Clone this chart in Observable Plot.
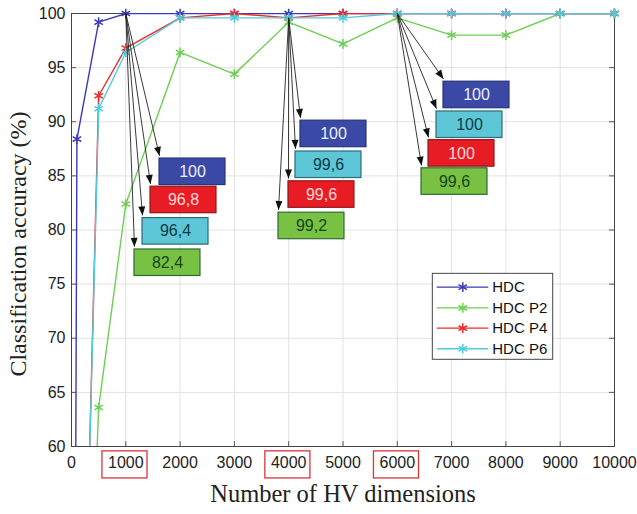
<!DOCTYPE html>
<html>
<head>
<meta charset="utf-8">
<script src="https://cdn.jsdelivr.net/npm/d3@7"></script>
<script src="https://cdn.jsdelivr.net/npm/@observablehq/plot@0.6"></script>
<style>
  body { margin: 0; background: #fff; }
  #chart svg { display: block; }
</style>
</head>
<body>
<div id="chart"></div>
<script>
// ---------- data ----------
const xTicks = [0, 1000, 2000, 3000, 4000, 5000, 6000, 7000, 8000, 9000, 10000];
const yTicks = [60, 65, 70, 75, 80, 85, 90, 95, 100];
const highlightedTicks = [1000, 4000, 6000];

const seriesNames = ["HDC", "HDC P2", "HDC P4", "HDC P6"];
const seriesColors = ["#3a3ab8", "#6ccf52", "#ee2b2b", "#50cbdc"];

const hdcDims = [50, 100, 500, 1000, 2000, 3000, 4000, 5000, 6000, 7000, 8000, 9000, 10000];
const hdcAcc  = [20, 88.4, 99.2, 100, 100, 100, 100, 100, 100, 100, 100, 100, 100];

const pDims  = [100, 500, 1000, 2000, 3000, 4000, 5000, 6000, 7000, 8000, 9000, 10000];
const p2Acc  = [10.6, 63.6, 82.4, 96.4, 94.4, 99.2, 97.2, 99.6, 98, 98, 100, 100];
const p4Acc  = [14, 92.4, 96.8, 99.6, 100, 99.6, 100, 100, 100, 100, 100, 100];
const p6Acc  = [14.6, 91.2, 96.4, 99.6, 99.6, 99.6, 99.6, 100, 100, 100, 100, 100];

// annotation call-outs
const annoLabels = ["100", "96,8", "96,4", "82,4", "100", "99,6", "99,6", "99,2", "100", "100", "100", "99,6"];
const annoSeries = [0, 2, 3, 1, 0, 3, 2, 1, 0, 3, 2, 1];
const annoFromX  = [1000, 1000, 1000, 1000, 4000, 4000, 4000, 4000, 6000, 6000, 6000, 6000];
const annoFromY  = [100, 100, 100, 100, 99.6, 99.6, 99.6, 99.6, 100, 100, 100, 100];
const annoBoxX   = [1621, 1455, 1308, 1160, 4217, 4125, 3996, 3812, 6851, 6722, 6575, 6446];
const annoBoxY   = [86.6, 84.0, 81.1, 78.2, 90.1, 87.25, 84.5, 81.6, 93.7, 90.95, 88.3, 85.7];
const boxFill    = ["#3b49a6", "#79c143", "#e81c24", "#5dc7d7"];
const boxStroke  = ["#27337c", "#2f6a35", "#8c1919", "#2b6c79"];
const boxText    = ["#eef0ff", "#154515", "#ffdada", "#0a3a44"];

// ---------- build tables ----------
const BOX_W = 1215, BOX_H = 2.45;
const lineRows = [];
const addSeries = (name, dims, acc) => dims.forEach((d, i) => lineRows.push({series: name, dim: d, acc: acc[i]}));
addSeries("HDC", hdcDims, hdcAcc);
addSeries("HDC P2", pDims, p2Acc);
addSeries("HDC P4", pDims, p4Acc);
addSeries("HDC P6", pDims, p6Acc);
const pointRows = lineRows.filter(d => d.acc >= 60);

const annos = annoLabels.map((label, i) => ({
  label,
  s: annoSeries[i],
  fx: annoFromX[i], fy: annoFromY[i],
  x1: annoBoxX[i], x2: annoBoxX[i] + BOX_W,
  y1: annoBoxY[i] - BOX_H, y2: annoBoxY[i]
}));

// legend (data coordinates)
const legendRows = seriesNames.map((name, i) => ({
  name, color: seriesColors[i], y: [74.72, 72.8, 70.93, 69.03][i]
}));

const colorScale = {domain: seriesNames, range: seriesColors};

const chart = Plot.plot({
  width: 637,
  height: 514,
  marginLeft: 71,
  marginRight: 23,
  marginTop: 13,
  marginBottom: 68,
  style: {fontFamily: "'Liberation Sans', Arial, sans-serif", background: "#fff", overflow: "visible"},
  x: {domain: [0, 10000]},
  y: {domain: [60, 100]},
  color: colorScale,
  marks: [
    Plot.gridX(xTicks, {stroke: "#e2e2e2", strokeOpacity: 1}),
    Plot.gridY(yTicks, {stroke: "#e2e2e2", strokeOpacity: 1}),
    // inward ticks (MATLAB style)
    Plot.ruleX(xTicks, {y1: 60, y2: 60.45, stroke: "#555"}),
    Plot.ruleX(xTicks, {y1: 99.55, y2: 100, stroke: "#555"}),
    Plot.ruleY(yTicks, {x1: 0, x2: 92, stroke: "#555"}),
    Plot.ruleY(yTicks, {x1: 9908, x2: 10000, stroke: "#555"}),
    Plot.frame({stroke: "#444", strokeWidth: 1}),
    Plot.axisX(xTicks, {tickSize: 0, tickPadding: 10, fontSize: 16, fill: "#222", label: null, tickFormat: d => String(d)}),
    Plot.axisY(yTicks, {tickSize: 0, tickPadding: 6, fontSize: 16, fill: "#222", label: null}),
    // red boxes around highlighted tick labels
    Plot.rect(highlightedTicks, {x1: d => d - 430, x2: d => d + 400, y1: 57.05, y2: 59.55, fill: "none", stroke: "#d8343c", strokeWidth: 1.3, clip: false}),
    // series lines
    Plot.line(lineRows, {x: "dim", y: "acc", z: "series", stroke: "series", strokeWidth: 1.4, clip: true}),
    Plot.dot(pointRows, {x: "dim", y: "acc", stroke: "series", symbol: "asterisk", r: 4.6, strokeWidth: 1.5}),
    // annotation arrows
    Plot.link(annos, {x1: "fx", y1: "fy", x2: "x1", y2: d => d.y2 + 0.25, stroke: "#222", strokeWidth: 0.9, markerEnd: "arrow"}),
    // annotation boxes
    Plot.rect(annos, {x1: "x1", x2: "x2", y1: "y1", y2: "y2", fill: d => boxFill[d.s], stroke: d => boxStroke[d.s], strokeWidth: 1.2}),
    Plot.text(annos, {x: d => d.x1 + BOX_W / 2, y: d => (d.y1 + d.y2) / 2, text: "label", fill: d => boxText[d.s], fontSize: 16}),
    // legend
    Plot.rect([0], {x1: 6654, x2: 8871, y1: 68.01, y2: 75.95, fill: "#fff", stroke: "#444", strokeWidth: 1}),
    Plot.ruleY(legendRows, {y: "y", x1: 6735, x2: 7685, stroke: "color", strokeWidth: 1.3}),
    Plot.dot(legendRows, {x: 7206, y: "y", stroke: "color", symbol: "asterisk", r: 4.6, strokeWidth: 1.5}),
    Plot.text(legendRows, {x: 7748, y: "y", text: "name", textAnchor: "start", fontSize: 15, fill: "#111"}),
    // axis titles
    Plot.text(["Number of HV dimensions"], {frameAnchor: "bottom", dy: 55, fontFamily: "'Liberation Serif', 'Times New Roman', serif", fontSize: 24.5, fill: "#222"}),
    Plot.text(["Classification accuracy (%)"], {frameAnchor: "left", dx: -53, dy: 14, rotate: -90, textAnchor: "middle", fontFamily: "'Liberation Serif', 'Times New Roman', serif", fontSize: 24, fill: "#222"})
  ]
});

// replace the open arrow markers with filled triangular heads
const svg = chart.tagName.toLowerCase() === "svg" ? chart : chart.querySelector("svg");
const ns = "http://www.w3.org/2000/svg";
const defs = document.createElementNS(ns, "defs");
const marker = document.createElementNS(ns, "marker");
marker.setAttribute("id", "tri-head");
marker.setAttribute("markerUnits", "userSpaceOnUse");
marker.setAttribute("markerWidth", "9");
marker.setAttribute("markerHeight", "7");
marker.setAttribute("refX", "9");
marker.setAttribute("refY", "3.5");
marker.setAttribute("orient", "auto");
marker.setAttribute("overflow", "visible");
const head = document.createElementNS(ns, "path");
head.setAttribute("d", "M0,0L9,3.5L0,7Z");
head.setAttribute("fill", "#111");
marker.appendChild(head);
defs.appendChild(marker);
svg.insertBefore(defs, svg.firstChild);
svg.querySelectorAll("[marker-end]").forEach(p => p.setAttribute("marker-end", "url(#tri-head)"));

document.getElementById("chart").appendChild(chart);
</script>
</body>
</html>
